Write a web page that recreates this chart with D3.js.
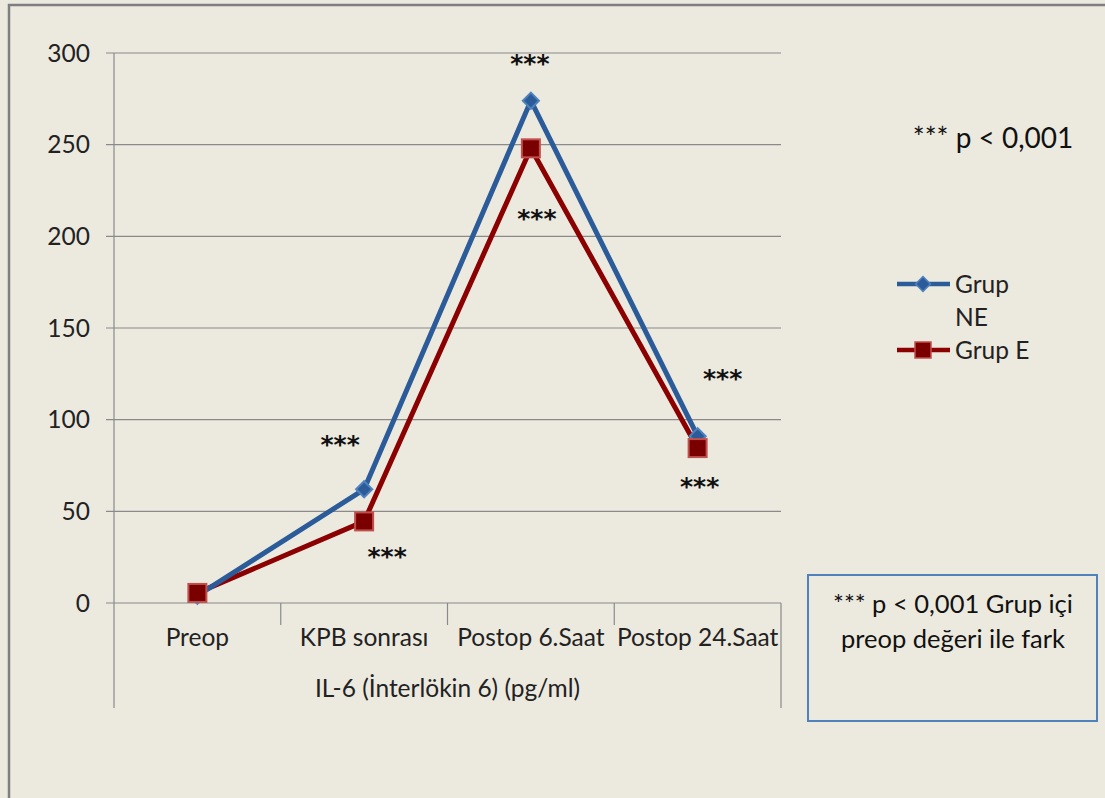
<!DOCTYPE html>
<html>
<head>
<meta charset="utf-8">
<script src="https://cdn.jsdelivr.net/npm/d3@7"></script>
<style>
  html, body { margin: 0; padding: 0; background: #fff; }
  svg { display: block; font-family: Lato, "Open Sans", sans-serif; }
</style>
</head>
<body>
<div id="chart"></div>
<script>
// Data
const categories = ["Preop", "KPB sonrası", "Postop 6.Saat", "Postop 24.Saat"];
const grupNE = [4, 62, 274, 91];
const grupE = [5.5, 44.5, 248, 84.5];
const yTicks = [0, 50, 100, 150, 200, 250, 300];
const seriesNames = ["Grup NE", "Grup E"];
// significance marks: [category index, value position, text]
const stars = [
  [2, 296, "***"], [2, 211, "***"],
  [1, 88, "***"], [1, 27, "***"],
  [3, 124, "***"], [3, 65, "***"]
];
const starOffsets = [-1, 6, -24, 23, 25, 2];

const W = 1105, H = 798;
const plotLeft = 114, plotRight = 781, plotTop = 53, plotBottom = 603;
const fs = 24.5;

const svg = d3.select("#chart").append("svg")
  .attr("width", W).attr("height", H);

// background and frame
svg.append("rect").attr("width", W).attr("height", H).attr("fill", "#ECE9DF");
svg.append("rect")
  .attr("x", 9).attr("y", 5).attr("width", W + 10).attr("height", H + 10)
  .attr("fill", "none").attr("stroke", "#7f7f7f").attr("stroke-width", 2.5);

const x = d3.scaleBand().domain(categories).range([plotLeft, plotRight]);
const y = d3.scaleLinear().domain([0, 300]).range([plotBottom, plotTop]);
const cx = d => x(d) + x.bandwidth() / 2;

// gridlines
svg.append("g")
  .selectAll("line").data(yTicks).join("line")
  .attr("x1", plotLeft - 8).attr("x2", plotRight)
  .attr("y1", d => y(d)).attr("y2", d => y(d))
  .attr("stroke", "#8a8a8a").attr("stroke-width", 1.2);

// y axis
svg.append("line")
  .attr("x1", plotLeft).attr("x2", plotLeft).attr("y1", plotTop).attr("y2", 708)
  .attr("stroke", "#8a8a8a").attr("stroke-width", 1.2);
svg.append("g")
  .selectAll("text").data(yTicks).join("text")
  .attr("x", 90).attr("y", d => y(d)).attr("dy", "0.35em")
  .attr("text-anchor", "end").attr("font-size", fs).attr("fill", "#222")
  .text(d => d);

// category separators
const seps = categories.slice(1).map(c => x(c));
svg.append("g")
  .selectAll("line").data(seps).join("line")
  .attr("x1", d => d).attr("x2", d => d).attr("y1", plotBottom).attr("y2", 625)
  .attr("stroke", "#8a8a8a").attr("stroke-width", 1.2);
svg.append("line")
  .attr("x1", plotRight).attr("x2", plotRight).attr("y1", plotBottom).attr("y2", 708)
  .attr("stroke", "#8a8a8a").attr("stroke-width", 1.2);

svg.append("g")
  .selectAll("text").data(categories).join("text")
  .attr("x", d => cx(d)).attr("y", 637).attr("dy", "0.35em")
  .attr("text-anchor", "middle").attr("font-size", fs).attr("fill", "#222")
  .text(d => d);

svg.append("text")
  .attr("x", (plotLeft + plotRight) / 2).attr("y", 688).attr("dy", "0.35em")
  .attr("text-anchor", "middle").attr("font-size", fs).attr("fill", "#222")
  .text("IL-6 (İnterlökin 6) (pg/ml)");

// lines
const line = d3.line().x((d, i) => cx(categories[i])).y(d => y(d));
const blue = "#2B5C99", red = "#8B0000";

svg.append("path").datum(grupE)
  .attr("d", line).attr("fill", "none")
  .attr("stroke", red).attr("stroke-width", 5).attr("stroke-linejoin", "round");
svg.append("path").datum(grupNE)
  .attr("d", line).attr("fill", "none")
  .attr("stroke", blue).attr("stroke-width", 5).attr("stroke-linejoin", "round");

svg.append("g")
  .selectAll("path").data(grupNE).join("path")
  .attr("d", d3.symbol().type(d3.symbolSquare).size(130))
  .attr("transform", (d, i) => `translate(${cx(categories[i])},${y(d)}) rotate(45)`)
  .attr("fill", "#2B5C99").attr("stroke", "#4F81BD").attr("stroke-width", 2);

svg.append("g")
  .selectAll("rect").data(grupE).join("rect")
  .attr("x", (d, i) => cx(categories[i]) - 9).attr("y", d => y(d) - 9)
  .attr("width", 18).attr("height", 18)
  .attr("fill", "#7A0000").attr("stroke", "#C0504D").attr("stroke-width", 2);

// significance stars
svg.append("g")
  .selectAll("text").data(stars).join("text")
  .attr("x", (d, i) => cx(categories[d[0]]) + starOffsets[i])
  .attr("y", d => y(d[1])).attr("dy", "0.45em")
  .attr("text-anchor", "middle").attr("font-size", 25).attr("font-weight", "bold")
  .attr("fill", "#111").attr("font-family", "'DejaVu Sans', sans-serif")
  .text(d => d[2]);

svg.append("text")
  .attr("x", 993).attr("y", 138).attr("dy", "0.35em")
  .attr("text-anchor", "middle").attr("font-size", 28).attr("fill", "#111")
  .text("*** p < 0,001");

// legend
const legend = svg.append("g");
legend.append("line").attr("x1", 897).attr("x2", 950).attr("y1", 284).attr("y2", 284)
  .attr("stroke", blue).attr("stroke-width", 4.5);
legend.append("path")
  .attr("d", d3.symbol().type(d3.symbolSquare).size(110))
  .attr("transform", "translate(923,284) rotate(45)")
  .attr("fill", "#2B5C99").attr("stroke", "#4F81BD").attr("stroke-width", 1.5);
legend.append("text").attr("x", 955).attr("y", 284).attr("dy", "0.35em")
  .attr("font-size", fs).attr("fill", "#222").text("Grup");
legend.append("text").attr("x", 955).attr("y", 317).attr("dy", "0.35em")
  .attr("font-size", fs).attr("fill", "#222").text("NE");
legend.append("line").attr("x1", 897).attr("x2", 950).attr("y1", 350).attr("y2", 350)
  .attr("stroke", red).attr("stroke-width", 4.5);
legend.append("rect").attr("x", 915).attr("y", 342).attr("width", 16).attr("height", 16)
  .attr("fill", "#7A0000").attr("stroke", "#C0504D").attr("stroke-width", 1.5);
legend.append("text").attr("x", 955).attr("y", 350).attr("dy", "0.35em")
  .attr("font-size", fs).attr("fill", "#222").text(seriesNames[1]);

// note box
svg.append("rect").attr("x", 808).attr("y", 575).attr("width", 289).attr("height", 146)
  .attr("fill", "none").attr("stroke", "#4F81BD").attr("stroke-width", 2);
svg.append("text").attr("x", 953).attr("y", 604).attr("dy", "0.35em")
  .attr("text-anchor", "middle").attr("font-size", 25.5).attr("fill", "#111")
  .text("*** p < 0,001 Grup içi");
svg.append("text").attr("x", 953).attr("y", 639).attr("dy", "0.35em")
  .attr("text-anchor", "middle").attr("font-size", 25.5).attr("fill", "#111")
  .text("preop değeri ile fark");
</script>
</body>
</html>
